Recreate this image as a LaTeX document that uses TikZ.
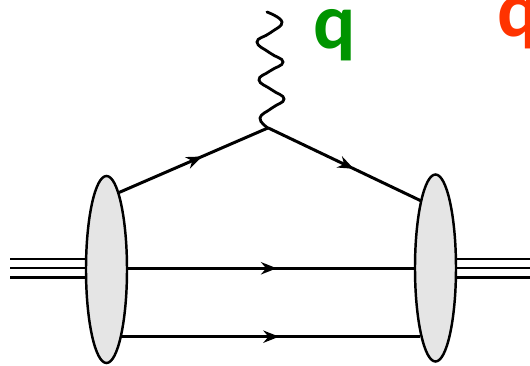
\documentclass[tikz,border=0pt]{standalone}
\usepackage{fontspec}
\usepackage{tikz}
\usetikzlibrary{arrows.meta, decorations.markings, shapes.geometric}
\usepackage{tkz-euclide}
\newfontfamily\qfont{Carlito}
\definecolor{qgreencol}{HTML}{009400}
\definecolor{qredcol}{HTML}{FF3300}
\tikzset{
  quark/.style={black, line width=1.7pt},
  proton/.style={black, line width=1.3pt},
  photon/.style={black, line width=1.6pt, line cap=round},
  blob/.style={draw=black, line width=1.4pt, fill=black!10, ellipse, inner sep=0pt, outer sep=0pt,
    minimum width=41*0.02cm, minimum height=187*0.02cm},
  qlabel/.style={font=\qfont\bfseries\fontsize{45}{45}\selectfont, inner sep=0pt, anchor=base},
  arrowat/.style={postaction={decorate}, decoration={markings,
    mark=at position #1 with {\arrow{Stealth[length=9pt, width=7pt]}}}},
}
\begin{document}
\begin{tikzpicture}[scale=0.02]
                \useasboundingbox (0,0) rectangle (530,366);
                \tkzDefPoints{268/238/V, 118/173/A, 421/165/B, 120/29.3/C, 420/29.3/D}
                \tkzDefPoints{10/107/E1, 10/97.7/E2, 10/88.5/E3, 86/107/F1, 86/97.7/F2, 86/88.5/F3}
                \tkzDefPoints{456/107/G1, 456/97.7/G2, 456/88.5/G3, 530/107/H1, 530/97.7/H2, 530/88.5/H3}
                \node[blob] (blobL) at (106.5,96.5) {};
                \node[blob] (blobR) at (435.5,98) {};
                \draw[quark, arrowat=0.56] (A) -- (V);
                \draw[quark, arrowat=0.56] (V) -- (B);
                \draw[quark, arrowat=0.52] (blobL.east |- 0,97.7) -- (blobR.west |- 0,97.7);
                \draw[quark, arrowat=0.53] (C) -- (D);
                \draw[proton] (E1) -- (F1);
                \draw[proton] (E2) -- (F2);
                \draw[proton] (E3) -- (F3);
                \draw[proton] (G1) -- (H1);
                \draw[proton] (G2) -- (H2);
                \draw[proton] (G3) -- (H3);
                \draw[photon] plot[smooth, tension=0.8] coordinates {(267,354) (282,344) (270,333) (257,324)
                  (270,313) (283,304) (270,295) (259,286) (272,276) (284,267) (272,258) (260,248) (268,238)};
                \node[qlabel, qgreencol] (qgreen) at (335,317) {q};
                \node[qlabel, qredcol] (qred) at (519,329) {q};
            \end{tikzpicture}
\end{document}
